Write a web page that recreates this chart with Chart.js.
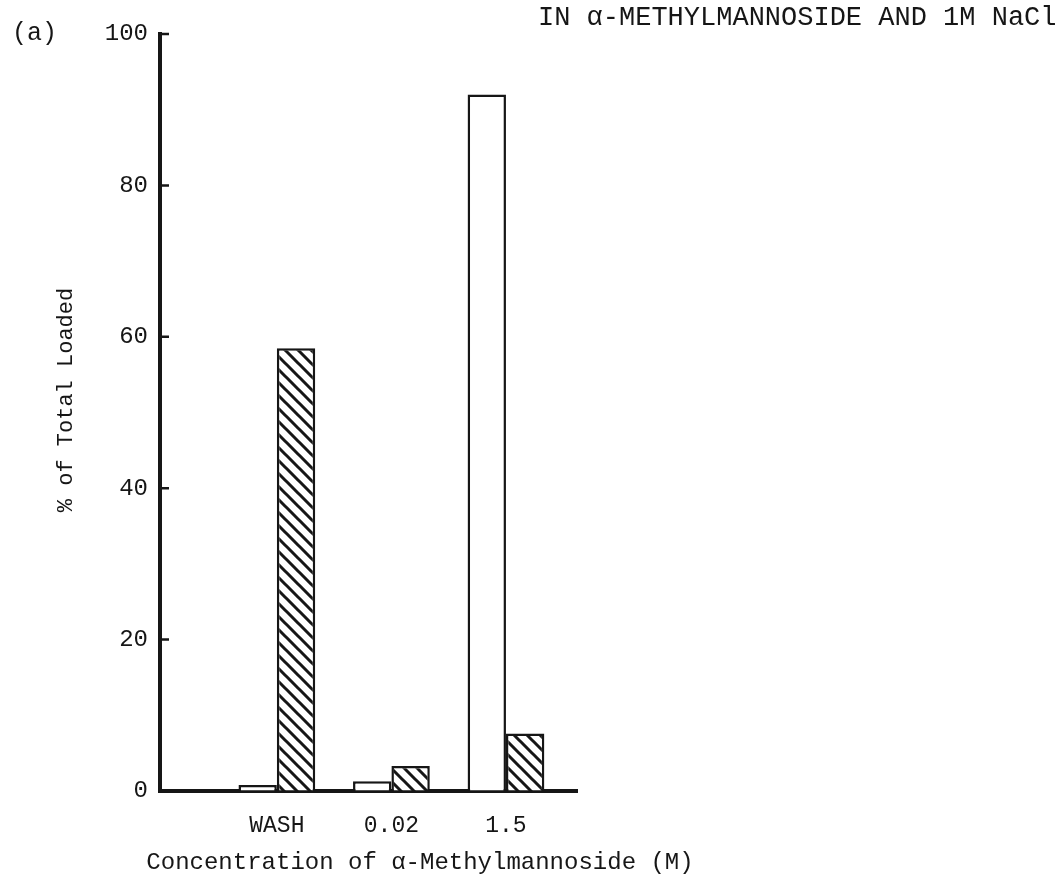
<!DOCTYPE html>
<html>
<head>
<meta charset="utf-8">
<script src="https://cdn.jsdelivr.net/npm/chart.js@4.4.1/dist/chart.umd.min.js"></script>
<style>
  body { margin: 0; background: #fff; }
  #wrap { width: 1064px; height: 885px; position: relative; }
</style>
</head>
<body>
<div id="wrap"><canvas id="elutionChart"></canvas></div>
<script>
const categories = ['WASH', '0.02', '1.5'];
const openBars = [0.8, 1.3, 92.0];
const hatchedBars = [58.5, 3.3, 7.6];
const yTicks = [0, 20, 40, 60, 80, 100];

const FONT = "'Liberation Mono', 'DejaVu Sans Mono', monospace";
const INK = '#161616';

// diagonal "\" hatching for the second series
function makeHatch() {
  const size = 13;
  const c = document.createElement('canvas');
  c.width = size; c.height = size;
  const g = c.getContext('2d');
  g.fillStyle = '#fff';
  g.fillRect(0, 0, size, size);
  g.strokeStyle = INK;
  g.lineWidth = 3;
  g.beginPath();
  g.moveTo(-3, -3); g.lineTo(size + 3, size + 3);
  g.moveTo(-3, size - 3); g.lineTo(3, size + 3);
  g.moveTo(size - 3, -3); g.lineTo(size + 3, 3);
  g.stroke();
  return g.createPattern(c, 'repeat');
}

const toPoints = vals => vals.map((v, i) => ({ x: i + 1, y: v }));

// inner tick marks on the y axis plus the free text around the plot
const extras = {
  id: 'extras',
  afterDraw(chart) {
    const { ctx, chartArea, scales } = chart;
    ctx.save();
    ctx.strokeStyle = INK;
    ctx.lineWidth = 2.5;
    ctx.beginPath();
    yTicks.forEach(v => {
      const py = scales.y.getPixelForValue(v);
      ctx.moveTo(chartArea.left, py);
      ctx.lineTo(chartArea.left + 9, py);
    });
    ctx.stroke();

    ctx.fillStyle = INK;
    ctx.textBaseline = 'middle';
    ctx.textAlign = 'left';
    ctx.font = '25px ' + FONT;
    ctx.fillText('(a)', 12, 33);
    ctx.font = '27px ' + FONT;
    ctx.fillText('IN α-METHYLMANNOSIDE AND 1M NaCl', 538, 18);

    ctx.textAlign = 'center';
    ctx.font = '24px ' + FONT;
    ctx.fillText('Concentration of α-Methylmannoside (M)', 420, 863);

    ctx.translate(66, 400);
    ctx.rotate(-Math.PI / 2);
    ctx.font = '22px ' + FONT;
    ctx.fillText('% of Total Loaded', 0, 0);
    ctx.restore();
  }
};

const hatch = makeHatch();

new Chart(document.getElementById('elutionChart'), {
  type: 'bar',
  data: {
    datasets: [
      {
        label: 'open',
        data: toPoints(openBars),
        backgroundColor: '#fff',
        borderColor: INK,
        borderWidth: 2.5,
        categoryPercentage: 0.67,
        barPercentage: 1.0
      },
      {
        label: 'hatched',
        data: toPoints(hatchedBars),
        backgroundColor: hatch,
        borderColor: INK,
        borderWidth: 2.5,
        categoryPercentage: 0.67,
        barPercentage: 1.0
      }
    ]
  },
  options: {
    responsive: true,
    maintainAspectRatio: false,
    animation: false,
    layout: { padding: { top: 34, right: 487, bottom: 0, left: 0 } },
    plugins: {
      legend: { display: false },
      tooltip: { enabled: false }
    },
    scales: {
      x: {
        type: 'linear',
        offset: false,
        min: -0.02,
        max: 3.62,
        afterFit: s => { s.height = 94; },
        afterBuildTicks: s => { s.ticks = categories.map((c, i) => ({ value: i + 1 })); },
        grid: { display: false, drawTicks: false },
        border: { display: true, color: INK, width: 4 },
        ticks: {
          padding: 21,
          color: INK,
          font: { family: FONT, size: 23 },
          callback: v => categories[v - 1] ?? ''
        }
      },
      y: {
        min: 0,
        max: 100,
        afterFit: s => { s.width = 160; },
        afterBuildTicks: s => { s.ticks = yTicks.map(v => ({ value: v })); },
        grid: { drawOnChartArea: false, drawTicks: false },
        border: { display: true, color: INK, width: 4 },
        ticks: {
          padding: 12,
          color: INK,
          font: { family: FONT, size: 24 }
        }
      }
    }
  },
  plugins: [extras]
});
</script>
</body>
</html>
